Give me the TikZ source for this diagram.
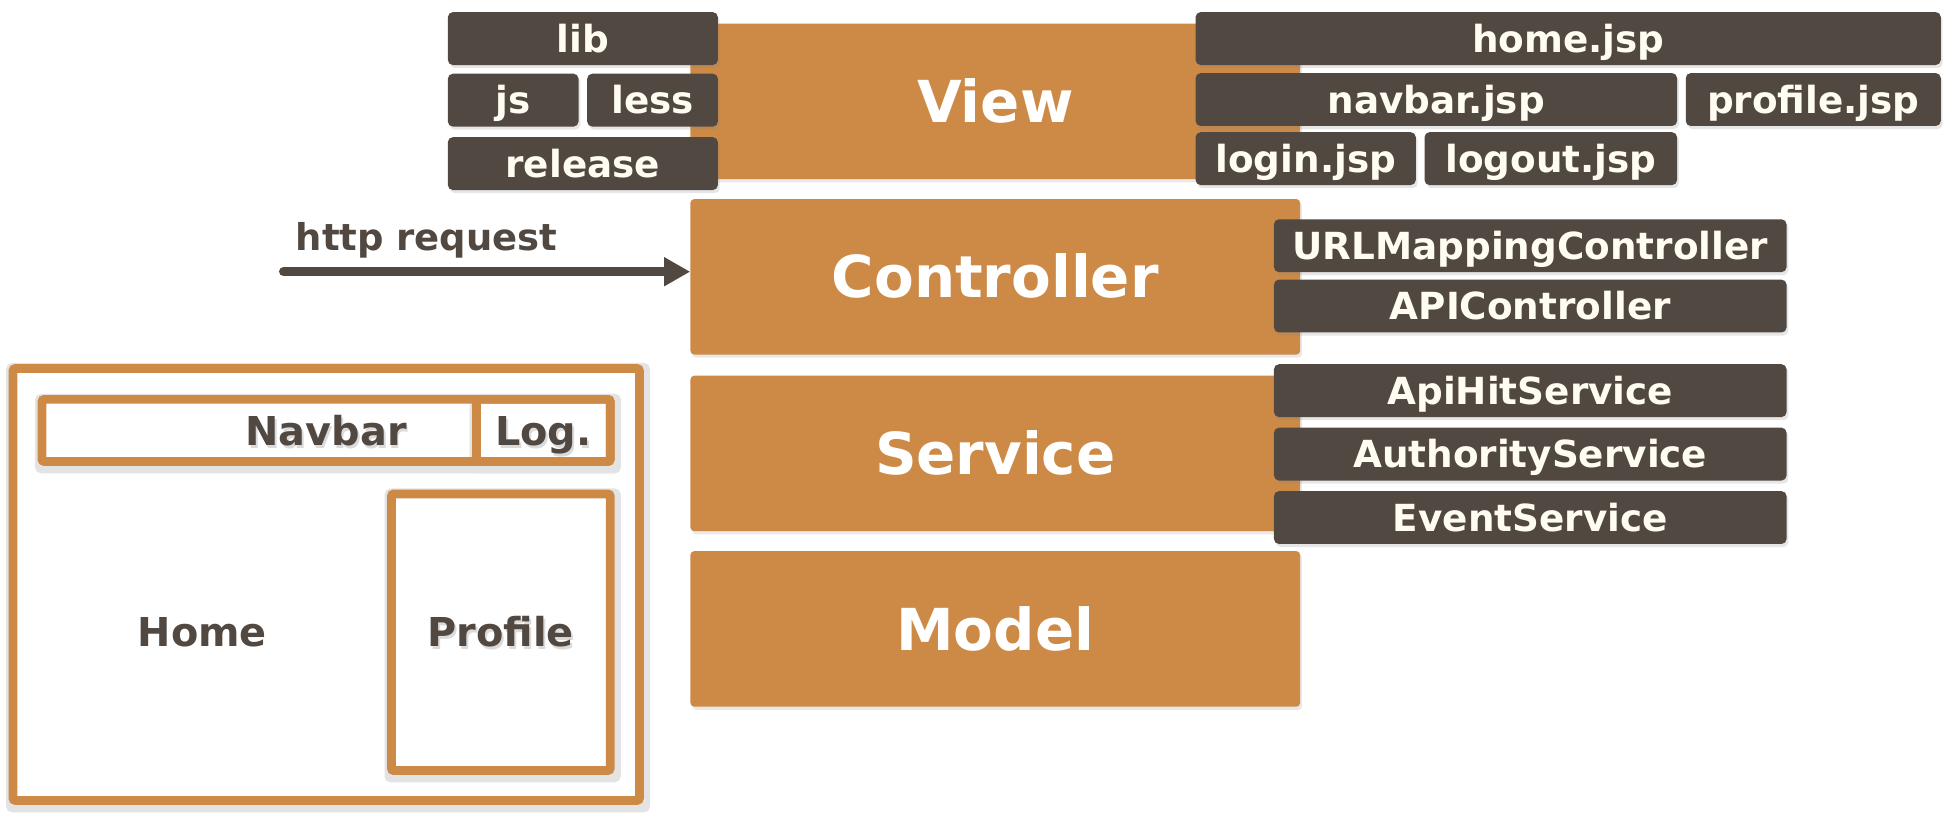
\documentclass[tikz,border=0pt]{standalone}
\usepackage{fontspec}
\setmainfont{DejaVu Sans}
\usetikzlibrary{shadows,arrows.meta,backgrounds}
\definecolor{orng}{HTML}{CD8A47}
\definecolor{drk}{HTML}{514842}
\definecolor{crm}{HTML}{FFFDF2}
\tikzset{
  obox/.style={fill=orng, rounded corners=3pt, inner sep=0pt,
    minimum width=490pt, minimum height=125pt, text=white,
    font=\bfseries\fontsize{46.5}{50}\selectfont, text height=34pt, text depth=0pt,
    drop shadow={shadow xshift=1.5pt, shadow yshift=-2.5pt, opacity=.18}},
  dbox/.style={fill=drk, rounded corners=4pt, inner sep=0pt, text=crm,
    minimum height=42.5pt,
    font=\bfseries\fontsize{30}{36}\selectfont, text height=22pt, text depth=0pt,
    drop shadow={shadow xshift=1.5pt, shadow yshift=-2.5pt, opacity=.2}},
  mframe/.style={draw=orng, line width=7pt, rounded corners=2pt, inner sep=0pt,
    text=drk, font=\bfseries\fontsize{32}{38}\selectfont, text height=23.4pt, text depth=0pt},
  mtext/.style={inner sep=0pt, text=drk, font=\bfseries\fontsize{32}{38}\selectfont,
    text height=23.4pt, text depth=0pt},
  fshadow/.style={draw=black!11, line width=7pt, rounded corners=2pt},
  tshadow/.style={mtext, text=black, opacity=.14},
  reqtext/.style={inner sep=0pt, text=drk, font=\bfseries\fontsize{29.7}{34}\selectfont},
  reqarrow/.style={draw=drk, line width=7.5pt, line cap=round,
    -{Triangle[length=21pt,width=22pt]}}
}
\begin{document}
\begin{tikzpicture}[x=1pt,y=-1pt]
\useasboundingbox (0,0) rectangle (1565,656.7);

% layer boxes
\node[obox] (view) at (800,81.5) {View};
\node[obox] (ctrl) at (800,222.5) {Controller};
\node[obox] (serv) at (800,364.5) {Service};
\node[obox] (model) at (800,505.5) {Model};

% left resources
\node[dbox, minimum width=217pt] (lib) at (468.5,31) {lib};
\node[dbox, minimum width=105pt] (js) at (412.5,80.5) {js};
\node[dbox, minimum width=105pt] (less) at (524.5,80.5) {less};
\node[dbox, minimum width=217pt] (release) at (468.5,131.5) {release};

% jsp files
\node[dbox, minimum width=599pt] (homejsp) at (1260.5,31) {home.jsp};
\node[dbox, minimum width=387pt] (navjsp) at (1154.5,80) {navbar.jsp};
\node[dbox, minimum width=205pt] (profjsp) at (1457.5,80) {profile.jsp};
\node[dbox, minimum width=177pt] (loginjsp) at (1049.5,127.5) {login.jsp};
\node[dbox, minimum width=203pt] (logoutjsp) at (1246.5,127.5) {logout.jsp};

% controllers
\node[dbox, minimum width=412pt] (urlc) at (1230,197.5) {URLMappingController};
\node[dbox, minimum width=412pt] (apic) at (1230,246) {APIController};

% services
\node[dbox, minimum width=412pt] (apis) at (1230,314) {ApiHitService};
\node[dbox, minimum width=412pt] (auths) at (1230,365) {AuthorityService};
\node[dbox, minimum width=412pt] (evs) at (1230,416) {EventService};

% http request
\coordinate (hs) at (228,218.4);
\node[reqtext, anchor=base west] (req) at (237.5,201.5) {http request};
\draw[reqarrow] (hs) -- (hs -| ctrl.west);

% page mockup
\node[mframe, minimum width=503.6pt, minimum height=347.2pt] (page) at (262.2,469.8) {};
\node[mframe, minimum width=456.8pt, minimum height=50pt] (navf) at (262.1,346) {};
\node[mframe, minimum width=107.5pt, minimum height=50pt] (logf) at (436.75,346) {};
\node[mframe, minimum width=175.9pt, minimum height=222.4pt] (proff) at (402.55,508.2) {};

\node[tshadow] (navts) at ([shift={(1.5,2.5)}]navf.center) {Navbar};
\node[tshadow] (logts) at ([shift={(1.5,2.5)}]logf.center) {Log.};
\node[tshadow] (profts) at ([shift={(1.5,2.5)}]proff.center) {Profile};
\node[mtext] (navt) at (navf.center) {Navbar};
\node[mtext] (logt) at (logf.center) {Log.};
\node[mtext] (proft) at (proff.center) {Profile};
\node[mtext] (homet) at (162.6,508.3) {Home};

\begin{scope}[on background layer]
  \foreach \f in {page,navf,logf,proff}
    \draw[fshadow] ([shift={(1.5,2.5)}]\f.south west) rectangle ([shift={(1.5,2.5)}]\f.north east);
\end{scope}
\end{tikzpicture}
\end{document}
